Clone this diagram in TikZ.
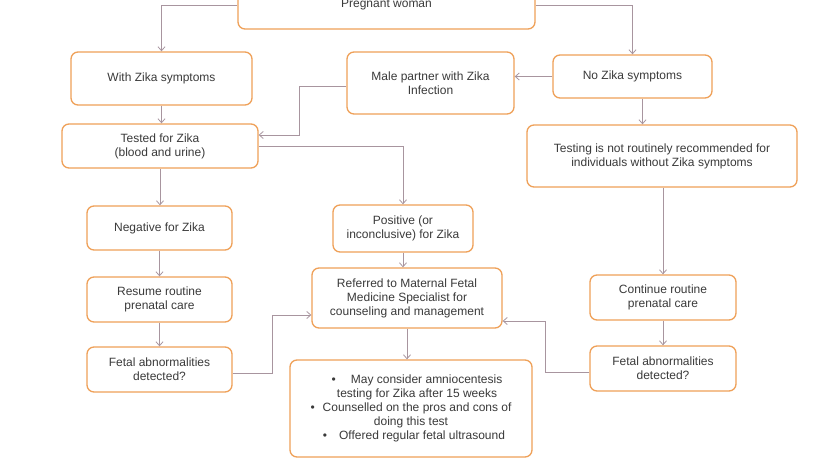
\documentclass[tikz,border=0pt]{standalone}
\usepackage{fontspec}
\setmainfont{Liberation Sans}
\usetikzlibrary{arrows.meta,calc}
\definecolor{boxorange}{HTML}{EFA159}
\definecolor{linegray}{HTML}{A8959F}
\definecolor{textgray}{HTML}{3A3A3A}
\begin{document}
\begin{tikzpicture}[x=1pt,y=-1pt,
  box/.style={draw=boxorange, line width=1.3pt, rounded corners=7pt, fill=white,
    text=textgray, font=\fontsize{12}{14}\selectfont, align=center, inner sep=0pt},
  conn/.style={draw=linegray, line width=0.8pt, -{Straight Barb[length=4pt,width=7pt]}}]
\useasboundingbox (0,0) rectangle (830,468);
\clip (0,0) rectangle (830,468);
\fill[white] (0,0) rectangle (830,468);
\node[box, minimum width=297pt, minimum height=48pt] (preg) at (386.5,5) {Pregnant woman};
\node[box, minimum width=181pt, minimum height=53pt] (with) at (161.5,78.5) {With Zika symptoms};
\node[box, minimum width=167pt, minimum height=62pt] (male) at (430.5,83) {Male partner with Zika\\Infection};
\node[box, minimum width=159pt, minimum height=43pt] (noz) at (632.5,76.5) {No Zika symptoms};
\node[box, minimum width=196pt, minimum height=44pt] (tested) at (160,146) {Tested for Zika\\(blood and urine)};
\node[box, minimum width=270pt, minimum height=62pt] (testing) at (662,156) {Testing is not routinely recommended for\\individuals without Zika symptoms};
\node[box, minimum width=145pt, minimum height=44pt] (neg) at (159.5,228) {Negative for Zika};
\node[box, minimum width=140pt, minimum height=47pt] (pos) at (403,228.5) {Positive (or\\inconclusive) for Zika};
\node[box, minimum width=190pt, minimum height=60pt] (ref) at (407,298) {Referred to Maternal Fetal\\Medicine Specialist for\\counseling and management};
\node[box, minimum width=242pt, minimum height=97pt] (bul) at (411,408.5) {%
  \hspace*{12pt}•\hspace{15pt}May consider amniocentesis\\
  \hspace*{12pt}testing for Zika after 15 weeks\\
  •\hspace{8pt}Counselled on the pros and cons of\\
  doing this test\\
  \hspace*{6pt}•\hspace{12pt}Offered regular fetal ultrasound};
\node[box, minimum width=145pt, minimum height=45pt] (resume) at (159.5,299.5) {Resume routine\\prenatal care};
\node[box, minimum width=145pt, minimum height=45pt] (fetl) at (159.5,369.5) {Fetal abnormalities\\detected?};
\node[box, minimum width=146pt, minimum height=45pt] (cont) at (663,297.5) {Continue routine\\prenatal care};
\node[box, minimum width=146pt, minimum height=45pt] (fetr) at (663,368.5) {Fetal abnormalities\\detected?};
% connectors
\coordinate (nzs) at ($(noz.south)+(10,0)$);
\coordinate (mlw) at ($(male.west)+(0,3)$);
\draw[conn] (preg.west) -| (with.north);
\draw[conn] (preg.east) -| (noz.north);
\draw[conn] (noz.west) -- (noz.west -| male.east);
\draw[conn] (mlw) -- ++(-47,0) |- ($(tested.east)+(0,-11)$);
\draw[conn] (with.south) -- (with.south |- tested.north);
\draw[conn] (tested.east) -| (pos.north);
\draw[conn] (tested.south) -- (tested.south |- neg.north);
\draw[conn] (neg.south) -- (neg.south |- resume.north);
\draw[conn] (resume.south) -- (resume.south |- fetl.north);
\draw[conn] (nzs) -- (nzs |- testing.north);
\draw[conn] (cont.north |- testing.south) -- (cont.north);
\draw[conn] (cont.south) -- (cont.south |- fetr.north);
\draw[conn] (pos.south) -- (pos.south |- ref.north);
\draw[conn] (ref.south) -- (ref.south |- bul.north);
\draw[conn] ($(fetl.east)+(0,4)$) -- ++(40,0) |- ($(ref.west)+(0,17)$);
\draw[conn] ($(fetr.west)+(0,4)$) -- ++(-44,0) |- ($(ref.east)+(0,23)$);
\end{tikzpicture}
\end{document}
